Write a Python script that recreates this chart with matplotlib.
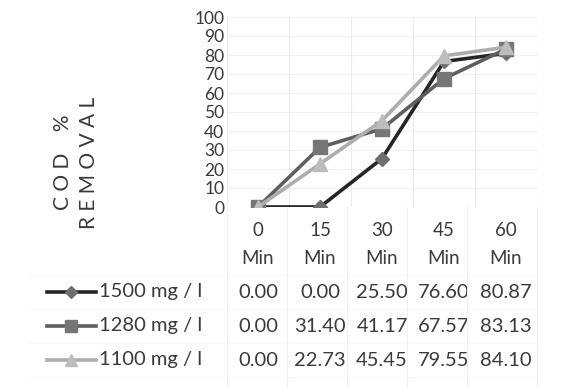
import matplotlib.pyplot as plt
import matplotlib.transforms as mtransforms
import numpy as np

plt.rcParams['font.family'] = ['Lato', 'DejaVu Sans']

times = ['0', '15', '30', '45', '60']
series_names = ['1500 mg / l', '1280 mg / l', '1100 mg / l']
removal_1500 = [0.00, 0.00, 25.50, 76.60, 80.87]
removal_1280 = [0.00, 31.40, 41.17, 67.57, 83.13]
removal_1100 = [0.00, 22.73, 45.45, 79.55, 84.10]
yticks = [0, 10, 20, 30, 40, 50, 60, 70, 80, 90, 100]

styles = [
    dict(color='#262626', marker='D', ms=7, mfc='#6e6e6e', mec='#6e6e6e'),
    dict(color='#5e5e5e', marker='s', ms=10, mfc='#767676', mec='#767676'),
    dict(color='#adadad', marker='^', ms=10, mfc='#bdbdbd', mec='#bdbdbd'),
]
txt = '#3a3a3a'

fig = plt.figure(figsize=(5.73, 3.88), dpi=100)
ax = fig.add_axes([227 / 573, 1 - 207 / 388, 310 / 573, 190 / 388])

x = np.arange(len(times))
for vals, st in zip([removal_1500, removal_1280, removal_1100], styles):
    ax.plot(x, vals, lw=2.6, zorder=3, **st)

ax.set_xlim(-0.5, len(times) - 0.5)
ax.set_ylim(0, 100)
ax.set_yticks(yticks)
ax.set_yticklabels([str(v) for v in yticks], fontsize=12.5, color=txt)
ax.set_xticks(x)
ax.set_xticklabels([t + '\nMin' for t in times], fontsize=13.5, color=txt,
                   linespacing=1.75)
ax.tick_params(axis='y', length=0, pad=2)
ax.tick_params(axis='x', length=0, pad=11)
for s in ax.spines.values():
    s.set_visible(False)

# faint gridlines
for v in yticks:
    ax.axhline(v, color='#f0f0f0', lw=0.8, zorder=0)
for b in np.arange(-0.5, len(times), 1.0):
    ax.axvline(b, color='#ebebeb', lw=0.8, zorder=0)

# axis title, spaced capitals
fig.text(63 / 573, 1 - 162 / 388, 'C O D    %', rotation=90, fontsize=15,
         color=txt, ha='center', va='center')
fig.text(89 / 573, 1 - 163 / 388, 'R E M O V A L', rotation=90,
         fontsize=15, color=txt, ha='center', va='center')

# data table under the chart
trans = mtransforms.blended_transform_factory(ax.transData, fig.transFigure)
row_y = [292, 326, 360]
for vals, name, st, py in zip([removal_1500, removal_1280, removal_1100],
                              series_names, styles, row_y):
    fy = 1 - py / 388
    fig.add_artist(plt.Line2D([47 / 573, 96 / 573], [fy, fy], lw=2.6,
                              color=st['color'], transform=fig.transFigure))
    fig.add_artist(plt.Line2D([71 / 573], [fy], marker=st['marker'],
                              ms=st['ms'] * 0.85, mfc=st['mfc'],
                              mec=st['mec'], transform=fig.transFigure))
    fig.text(99 / 573, fy, name, fontsize=14.5, color=txt,
             ha='left', va='center')
    for xi, v in zip(x, vals):
        ax.text(xi, fy, '%.2f' % v, transform=trans, fontsize=14.5,
                color=txt, ha='center', va='center')

# table cell borders, barely visible
for bx in [227, 287, 347, 407, 467, 537]:
    fig.add_artist(plt.Line2D([bx / 573, bx / 573], [0, 1 - 207 / 388],
                              color='#f0f0f0', lw=0.8,
                              transform=fig.transFigure))
for by in [275, 309, 343, 377]:
    fig.add_artist(plt.Line2D([30 / 573, 537 / 573], [1 - by / 388] * 2,
                              color='#f7f7f7', lw=0.8,
                              transform=fig.transFigure))

fig.savefig('out.png', dpi=100, facecolor='white')
